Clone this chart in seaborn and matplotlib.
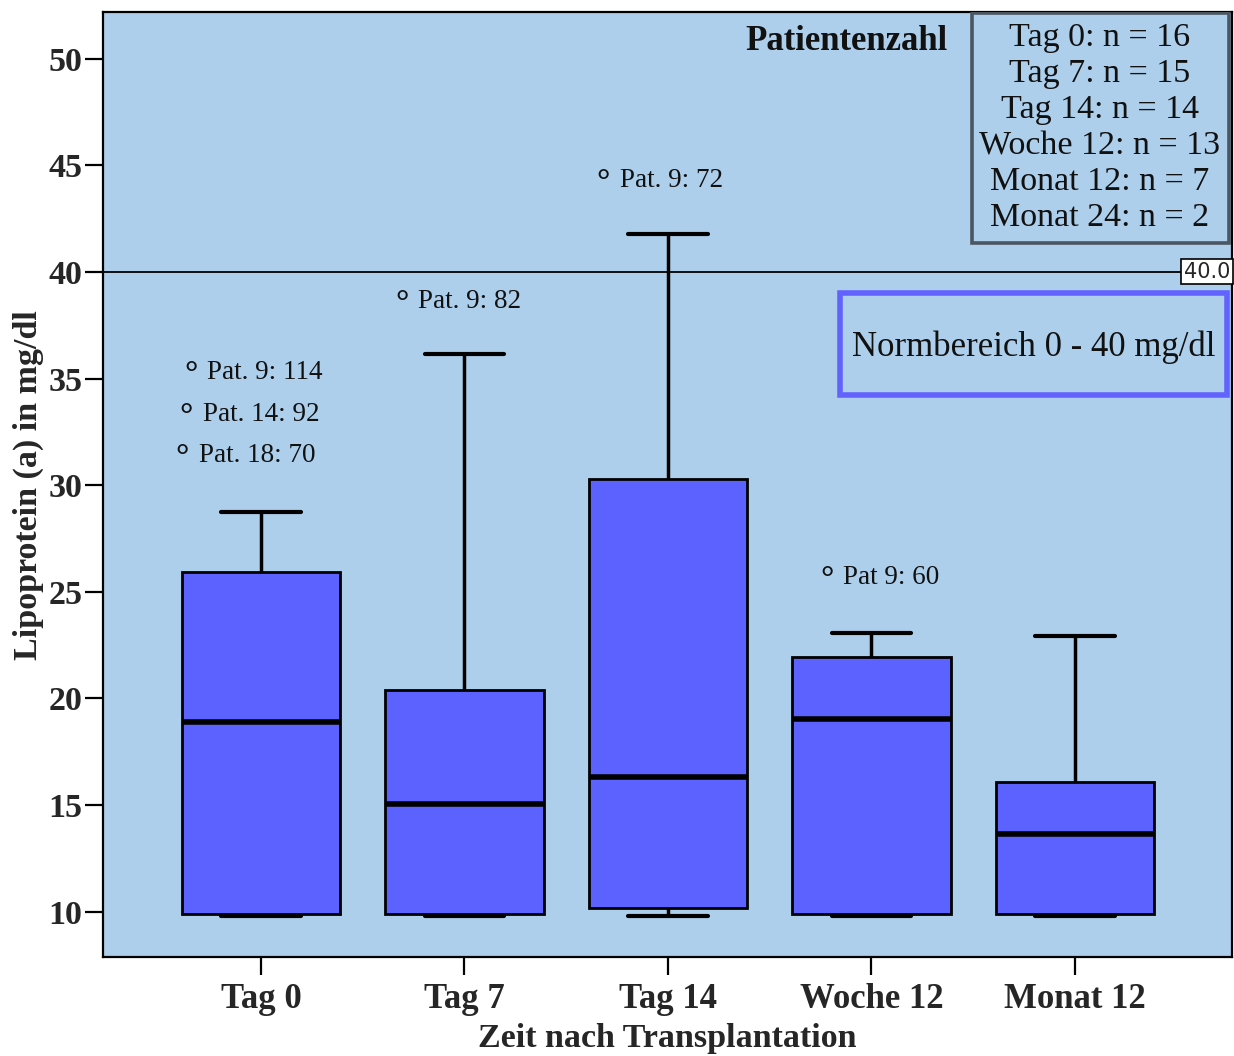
import numpy as np
import pandas as pd
import matplotlib
matplotlib.use("Agg")
import matplotlib.pyplot as plt
import matplotlib.transforms as mtransforms
from matplotlib.patches import Rectangle
import seaborn as sns

# ---------------- data ----------------
categories = ["Tag 0", "Tag 7", "Tag 14", "Woche 12", "Monat 12"]
# five-number summaries (min, Q1, median, Q3, max)
mins    = [9.78, 9.78, 9.78, 9.78, 9.78]
q1s     = [9.87, 9.87, 10.17, 9.87, 9.87]
medians = [18.89, 15.04, 16.30, 19.03, 13.66]
q3s     = [25.93, 20.39, 30.30, 21.95, 16.06]
maxs    = [28.75, 36.16, 41.80, 23.05, 22.94]

# off-scale outliers (labels only)
outlier_cat   = [0, 0, 0, 1, 2, 3]
outlier_label = ["Pat. 9: 114", "Pat. 14: 92", "Pat. 18: 70",
                 "Pat. 9: 82", "Pat. 9: 72", "Pat 9: 60"]
outlier_dx    = [-0.265, -0.285, -0.305, -0.226, -0.236, -0.138]
outlier_y     = [35.27, 33.30, 31.38, 38.61, 44.29, 25.65]

legend_title = "Patientenzahl"
legend_lines = ["Tag 0: n = 16", "Tag 7: n = 15", "Tag 14: n = 14",
                "Woche 12: n = 13", "Monat 12: n = 7", "Monat 24: n = 2"]
ref_value = 40.0
norm_text = "Normbereich 0 - 40 mg/dl"

rows = []
for c, a, b, m, d, e in zip(categories, mins, q1s, medians, q3s, maxs):
    for v in (a, b, m, d, e):
        rows.append({"Zeit": c, "Wert": v})
df = pd.DataFrame(rows)

# ---------------- style ----------------
sns.set_theme(style="white")
plt.rcParams["font.family"] = ["Liberation Serif", "DejaVu Serif"]

W, H = 1234, 1056
fig = plt.figure(figsize=(W / 100, H / 100), dpi=100)
ax = fig.add_axes([103 / W, 1 - 957 / H, (1232 - 103) / W, (957 - 12) / H])
ax.set_facecolor("#ADCFEC")

sns.boxplot(data=df, x="Zeit", y="Wert", order=categories, ax=ax,
            color="#5B62FF", saturation=1, width=0.78, whis=np.inf,
            linecolor="black", linewidth=2, showfliers=False,
            medianprops={"linewidth": 4, "color": "black"},
            whiskerprops={"linewidth": 2.5},
            capprops={"linewidth": 3})

ax.set_xlim(-0.776, 4.772)
ax.set_ylim(7.87, 52.19)
ax.set_yticks([10, 15, 20, 25, 30, 35, 40, 45, 50])

for s in ax.spines.values():
    s.set_visible(True)
    s.set_color("black")
    s.set_linewidth(1.6)

ax.tick_params(axis="both", direction="out", length=13, width=1.6, color="black",
               bottom=True, left=True)
ax.tick_params(axis="x", pad=6, labelsize=25)
ax.tick_params(axis="y", pad=2, labelsize=24.5)
for lab in ax.get_xticklabels() + ax.get_yticklabels():
    lab.set_fontweight("bold")

ax.set_xlabel("Zeit nach Transplantation", fontsize=24.5, fontweight="bold", va="center")
ax.xaxis.set_label_coords(0.5, (957 - 1038) / 945)
ax.set_ylabel("Lipoprotein (a) in mg/dl", fontsize=24.5, fontweight="bold", va="center")
ax.yaxis.set_label_coords((28 - 103) / 1129, (957 - 485) / 945)

# reference line at 40
ax.axhline(ref_value, color="black", lw=1.3, zorder=1)
blend = mtransforms.blended_transform_factory(ax.transAxes, ax.transData)
ax.text(0.9985, ref_value, f"{ref_value:.1f}", transform=blend, ha="right", va="center",
        fontsize=15, family="DejaVu Sans", zorder=6,
        bbox=dict(boxstyle="square,pad=0.12", fc="white", ec="black", lw=1.2))

# outlier labels (small circle + text)
for c, lab, dx, y in zip(outlier_cat, outlier_label, outlier_dx, outlier_y):
    ax.annotate("°", xy=(c + dx, y), xytext=(-7, -1.5), textcoords="offset points",
                ha="right", va="center", fontsize=24, fontweight="bold", color="#111111")
    ax.text(c + dx, y, lab, ha="left", va="center", fontsize=19.5, color="#111111")

# patient count box
ax.add_patch(Rectangle(((972 - 103) / 1129, (957 - 243) / 945),
                       (1229 - 972) / 1129, (243 - 13) / 945,
                       transform=ax.transAxes, fill=False, ec="#4B5660", lw=2.6, zorder=5))
line_y = [38, 74, 110, 146, 182, 218]
for t, py in zip(legend_lines, line_y):
    ax.text((1100 - 103) / 1129, (957 - py) / 945, t, transform=ax.transAxes,
            ha="center", va="center", fontsize=24.5, color="#111111")
ax.text((847 - 103) / 1129, (957 - 42) / 945, legend_title, transform=ax.transAxes,
        ha="center", va="center", fontsize=25, fontweight="bold", color="#111111")

# Normbereich box
ax.add_patch(Rectangle(((840 - 103) / 1129, (957 - 395) / 945),
                       (1227 - 840) / 1129, (395 - 293) / 945,
                       transform=ax.transAxes, fill=False, ec="#6262FF", lw=4, zorder=5))
ax.text((1034 - 103) / 1129, (957 - 347) / 945, norm_text, transform=ax.transAxes,
        ha="center", va="center", fontsize=25, color="#111111")

fig.savefig("out.png", dpi=100, facecolor="white")
